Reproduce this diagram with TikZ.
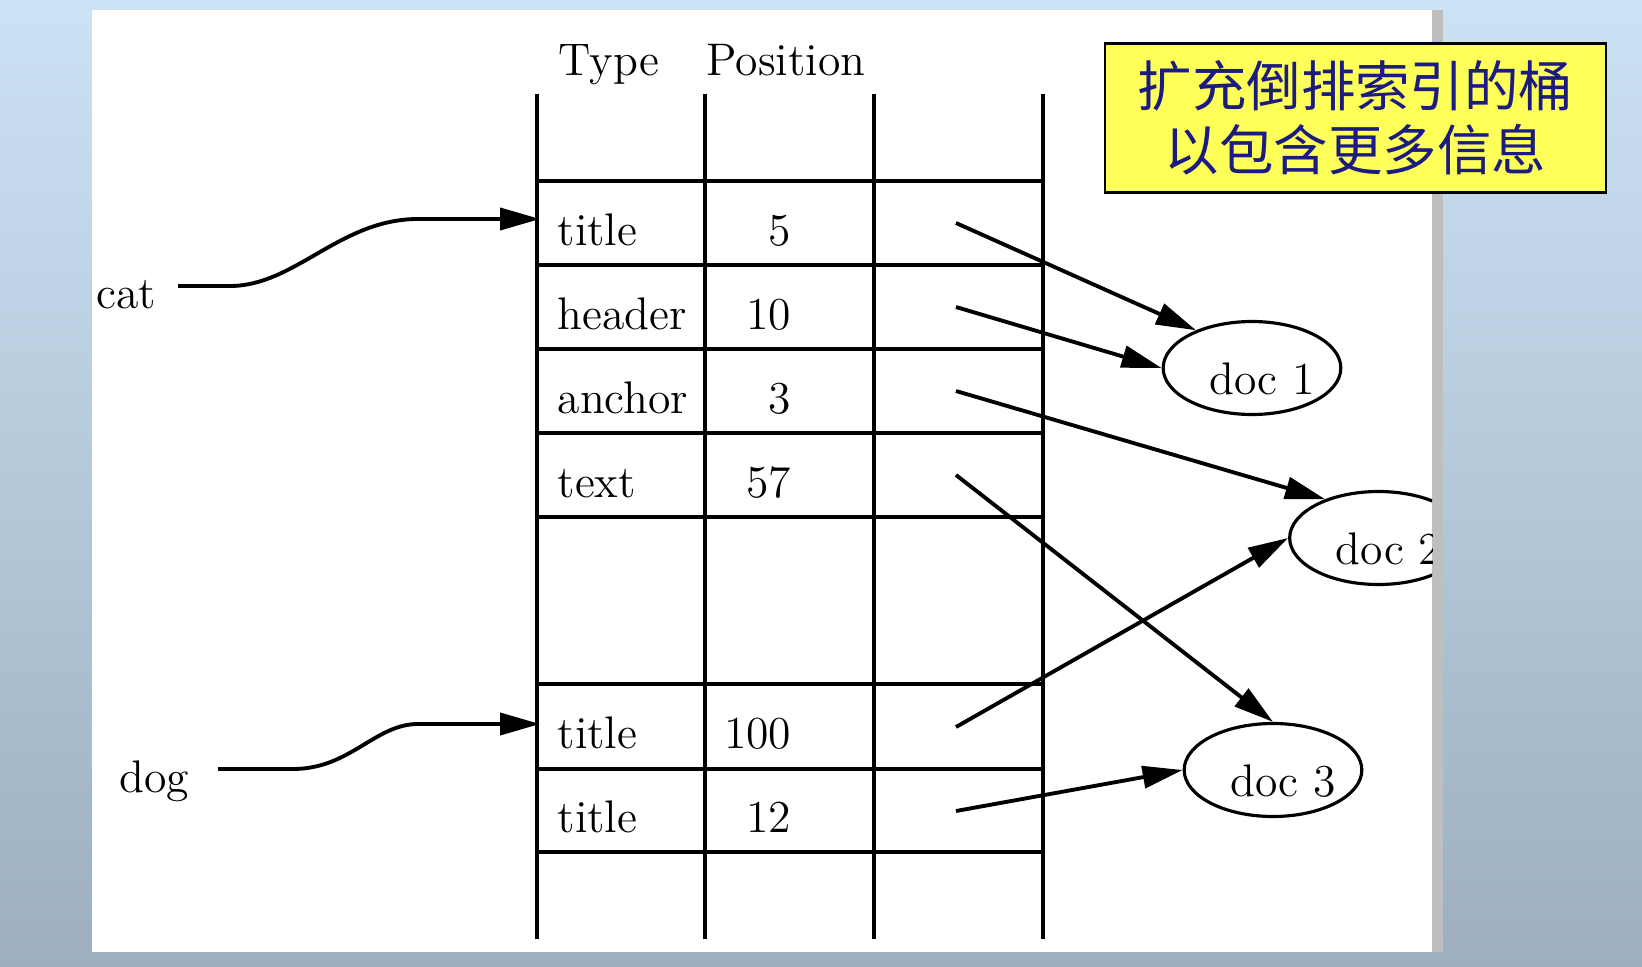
\documentclass[tikz,border=0pt]{standalone}
\usepackage{fontspec}
\usepackage{tikz}
\usetikzlibrary{arrows.meta,shapes.geometric}
\newfontfamily\cjk{Noto Sans CJK SC}
\definecolor{bgTop}{RGB}{204,226,245}
\definecolor{bgBottom}{RGB}{157,175,190}
\definecolor{stripGray}{RGB}{190,190,190}
\definecolor{noteYellow}{RGB}{255,255,90}
\definecolor{noteBlue}{RGB}{28,28,128}
\tikzstyle{cellText} = [anchor=base west, inner sep=0]
\tikzstyle{posText} = [anchor=base east, inner sep=0]
\tikzstyle{headText} = [anchor=base, inner sep=0]
\tikzstyle{docEllipse} = [shape=ellipse, draw=black, line width=0.9pt,
	minimum width=1.77cm, minimum height=0.93cm, inner sep=0,
	text height=0.52cm, text depth=0pt]
\tikzstyle{noteBox} = [shape=rectangle, draw=black, line width=0.6pt,
	fill=noteYellow, text=noteBlue, align=center, minimum width=5.01cm,
	minimum height=1.49cm, font=\cjk\fontsize{15.5}{18.3}\selectfont]
\tikzstyle{linkArrow} = [line width=1.1pt, -{Triangle[length=4mm, width=2.2mm]}]

\begin{document}
\begin{tikzpicture}[
	y=-1cm, font=\fontsize{13}{15.6}\selectfont,
	tableLine/.style = {line width=1pt}
  ]
  \useasboundingbox (0,0) rectangle (16.42,9.67);
  \shade[top color=bgTop, bottom color=bgBottom] (0,0) rectangle (16.42,9.67);
  \fill[white] (0.92,0.10) rectangle (14.32,9.52);
  \fill[stripGray] (14.32,0.10) rectangle (14.43,9.52);
  \begin{scope}
  \clip (0.92,0.10) rectangle (14.32,9.52);
  \draw[tableLine] (5.37,0.94) -- (5.37,9.39) (7.05,0.94) -- (7.05,9.39)
	(8.74,0.94) -- (8.74,9.39) (10.43,0.94) -- (10.43,9.39);
  \draw[tableLine] (5.37,1.81) -- (10.43,1.81) (5.37,2.65) -- (10.43,2.65)
	(5.37,3.49) -- (10.43,3.49) (5.37,4.33) -- (10.43,4.33)
	(5.37,5.17) -- (10.43,5.17) (5.37,6.84) -- (10.43,6.84)
	(5.37,7.69) -- (10.43,7.69) (5.37,8.52) -- (10.43,8.52);
  \node[headText] (type) at (6.09,0.75) {Type};
  \node[headText] (position) at (7.86,0.75) {Position};
  \node[cellText] (t1) at (5.57,2.45) {title};
  \node[cellText] (t2) at (5.57,3.29) {header};
  \node[cellText] (t3) at (5.57,4.13) {anchor};
  \node[cellText] (t4) at (5.57,4.97) {text};
  \node[cellText] (t7) at (5.57,7.48) {title};
  \node[cellText] (t8) at (5.57,8.32) {title};
  \node[posText] (p1) at (7.92,2.45) {5};
  \node[posText] (p2) at (7.92,3.29) {10};
  \node[posText] (p3) at (7.92,4.13) {3};
  \node[posText] (p4) at (7.92,4.97) {57};
  \node[posText] (p7) at (7.92,7.48) {100};
  \node[posText] (p8) at (7.92,8.32) {12};
  \node[cellText] (cat) at (0.96,3.08) {cat};
  \node[cellText] (dog) at (1.19,7.92) {dog};
  \node[docEllipse] (d1) at (12.52,3.68) {\hspace*{2mm}doc 1};
  \node[docEllipse] (d2) at (13.785,5.38) {\hspace*{2mm}doc 2};
  \node[docEllipse] (d3) at (12.73,7.70) {\hspace*{2mm}doc 3};
  \coordinate (catOut) at (1.78,2.86);
  \coordinate (catIn) at (5.40,2.19);
  \coordinate (dogOut) at (2.18,7.69);
  \coordinate (dogIn) at (5.40,7.24);
  \coordinate (s1) at (9.56,2.23);
  \coordinate (s2) at (9.56,3.07);
  \coordinate (s3) at (9.56,3.91);
  \coordinate (s4) at (9.56,4.75);
  \coordinate (s7) at (9.56,7.27);
  \coordinate (s8) at (9.56,8.11);
  \draw[linkArrow] (catOut) -- (2.3,2.86) .. controls (2.95,2.86) and (3.4,2.19)
	.. (4.18,2.19) -- (catIn);
  \draw[linkArrow] (dogOut) -- (2.93,7.69) .. controls (3.5,7.69) and (3.75,7.24)
	.. (4.18,7.24) -- (dogIn);
  \draw[linkArrow] (s1) -- (d1.146);
  \draw[linkArrow] (s2) -- (d1.west);
  \draw[linkArrow] (s3) -- (d2.144);
  \draw[linkArrow] (s4) -- (d3.north);
  \draw[linkArrow] (s7) -- (d2.west);
  \draw[linkArrow] (s8) -- (d3.west);
  \end{scope}
  \node[noteBox] (note) at (13.555,1.18) {扩充倒排索引的桶\\以包含更多信息};
\end{tikzpicture}
\end{document}
